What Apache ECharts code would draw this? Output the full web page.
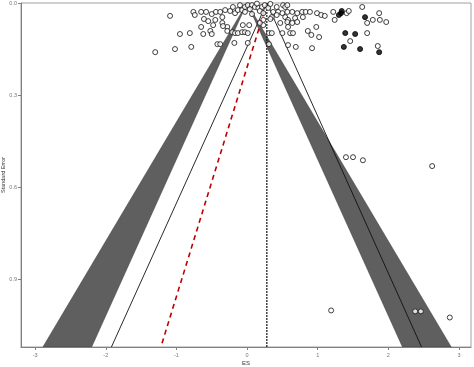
<!DOCTYPE html>
<html><head><meta charset="utf-8">
<script src="https://cdn.jsdelivr.net/npm/echarts@6/dist/echarts.min.js"></script>
<style>html,body{margin:0;padding:0;background:#fff;}#c{width:474px;height:367px;}</style>
</head><body><div id="c"></div>
<script>
// Hollow points: effect size (ES) and standard error (SE)
const esOpen = [-1.30,-1.09,-1.02,-0.95,-0.81,-0.79,-0.76,-0.74,-0.65,-0.58,-0.65,-0.61,-0.55,-0.62,-0.52,-0.50,-0.50,-0.44,-0.38,-0.31,-0.45,-0.48,-0.35,-0.28,-0.42,-0.38,-0.28,-0.21,-0.17,-0.13,-0.07,-0.03,0.01,-0.34,-0.06,0.03,-0.18,0.01,-0.24,-0.17,-0.13,-0.07,-0.03,0.01,0.07,0.11,0.16,0.21,0.25,-0.10,0.04,0.14,-0.03,0.18,0.30,0.33,-0.20,0.23,0.23,0.23,0.31,0.31,0.42,0.51,0.54,0.37,0.44,0.50,0.57,0.64,0.71,0.78,0.83,0.89,0.99,1.05,1.10,1.22,0.35,0.42,0.54,0.58,0.68,0.79,0.47,0.57,0.64,0.71,0.58,0.98,0.35,0.50,0.61,0.65,0.86,0.91,1.02,0.58,0.69,0.92,1.24,1.41,1.44,1.46,1.63,1.70,1.70,1.78,1.88,1.97,1.87,1.85,1.40,1.50,1.64,2.62,1.19,2.38,2.46,2.87,0.18,0.33,0.57,-0.35,0.07];
const seOpen = [0.160,0.042,0.150,0.101,0.098,0.143,0.029,0.039,0.029,0.029,0.078,0.052,0.059,0.101,0.091,0.101,0.036,0.029,0.029,0.023,0.055,0.072,0.065,0.078,0.134,0.134,0.091,0.095,0.098,0.098,0.095,0.095,0.098,0.075,0.072,0.072,0.130,0.130,0.026,0.033,0.023,0.023,0.013,0.007,0.007,0.013,0.016,0.013,0.007,0.007,0.020,0.002,0.029,0.026,0.016,0.003,0.013,0.033,0.055,0.072,0.098,0.134,0.013,0.007,0.013,0.029,0.029,0.033,0.029,0.029,0.033,0.029,0.029,0.029,0.033,0.039,0.042,0.029,0.046,0.039,0.046,0.055,0.049,0.046,0.065,0.062,0.065,0.062,0.078,0.078,0.098,0.098,0.098,0.098,0.091,0.104,0.111,0.137,0.143,0.147,0.055,0.033,0.026,0.124,0.013,0.065,0.098,0.055,0.055,0.062,0.033,0.140,0.502,0.502,0.512,0.531,1.001,1.004,1.004,1.024,0.065,0.052,0.007,0.046,0.036];
// Filled (imputed) points
const esFilled = [1.30,1.33,1.34,1.67,1.39,1.53,1.37,1.60,1.87];
const seFilled = [0.039,0.033,0.026,0.046,0.098,0.101,0.143,0.150,0.160];
// Reference lines
const pooledES = 0.28;
const seMax = 1.12;
const ciLeftEnd = -1.92;   // pooled-estimate 95% funnel, left edge at seMax
const ciRightEnd = 2.47;   // right edge at seMax
const eggerEnd = -1.22;    // red dashed line end at seMax
// Contour bands (between p=.05 and p=.01 around 0), bottom edges at seMax
const bandLeft = [-2.89, -2.20];
const bandRight = [2.20, 2.89];
// Axis ticks
const xTicks = [-3,-2,-1,0,1,2,3];
const yTicks = [0,0.3,0.6,0.9];

const openData = esOpen.map((v,i)=>[v, seOpen[i]]);
const filledData = esFilled.map((v,i)=>[v, seFilled[i]]);

const chart = echarts.init(document.getElementById('c'), null, {renderer:'canvas'});
const FONT = 'Liberation Sans, Arial, sans-serif';
const lblStyle = {color:'#777', fontSize:5.5, fontFamily:FONT};
chart.setOption({
  animation:false,
  backgroundColor:'#fff',
  grid:{left:21, right:3, top:3, bottom:20, outerBoundsMode:'none', containLabel:false, show:true, borderColor:'#a0a0a0', borderWidth:1},
  xAxis:{
    type:'value', min:-3.2, max:3.17,
    name:'ES', nameLocation:'middle', nameGap:13, nameMoveOverlap:false,
    nameTextStyle:{color:'#333', fontSize:6, fontFamily:FONT},
    axisLine:{show:true, onZero:false, lineStyle:{color:'#808080', width:1}},
    axisTick:{show:true, length:3, customValues:xTicks, lineStyle:{color:'#808080'}},
    axisLabel:Object.assign({customValues:xTicks, margin:5, formatter:v=>String(v)}, lblStyle),
    splitLine:{show:false}
  },
  yAxis:{
    type:'value', min:0, max:seMax, inverse:true,
    name:'Standard Error', nameLocation:'middle', nameGap:15, nameMoveOverlap:false,
    nameTextStyle:{color:'#333', fontSize:5.5, fontFamily:FONT},
    axisLine:{show:true, onZero:false, lineStyle:{color:'#808080', width:1}},
    axisTick:{show:true, length:3, customValues:yTicks, lineStyle:{color:'#808080'}},
    axisLabel:Object.assign({customValues:yTicks, margin:4, formatter:v=>v.toFixed(1)}, lblStyle),
    splitLine:{show:false}
  },
  series:[
    {
      type:'custom', silent:true, z:1,
      data:[[0,0,bandLeft[0],seMax,bandLeft[1],seMax],[0,0,bandRight[0],seMax,bandRight[1],seMax]],
      renderItem:function(params, api){
        const pts=[];
        for(let k=0;k<3;k++) pts.push(api.coord([api.value(2*k), api.value(2*k+1)]));
        return {type:'polygon', shape:{points:pts}, style:{fill:'#5f5f5f', stroke:'#3a3a3a', lineWidth:0.5}};
      },
      clip:true
    },
    {type:'line', z:2, symbol:'none', silent:true, data:[[pooledES,0],[ciLeftEnd,seMax]], lineStyle:{color:'#111', width:0.9}},
    {type:'line', z:2, symbol:'none', silent:true, data:[[pooledES,0],[ciRightEnd,seMax]], lineStyle:{color:'#111', width:0.9}},
    {type:'line', z:3, symbol:'none', silent:true, data:[[pooledES,0],[pooledES,seMax]], lineStyle:{color:'#111', width:1.2, type:[2,1]}},
    {type:'line', z:3, symbol:'none', silent:true, data:[[pooledES,0],[eggerEnd,seMax]], lineStyle:{color:'#c00000', width:1.6, type:[5,4]}},
    {type:'scatter', z:5, symbol:'circle', symbolSize:5, data:openData,
      itemStyle:{color:'#fff', borderColor:'#111', borderWidth:1}},
    {type:'scatter', z:6, symbol:'circle', symbolSize:5, data:filledData,
      itemStyle:{color:'#000', borderColor:'#000', borderWidth:1}}
  ]
});
</script>
</body></html>
